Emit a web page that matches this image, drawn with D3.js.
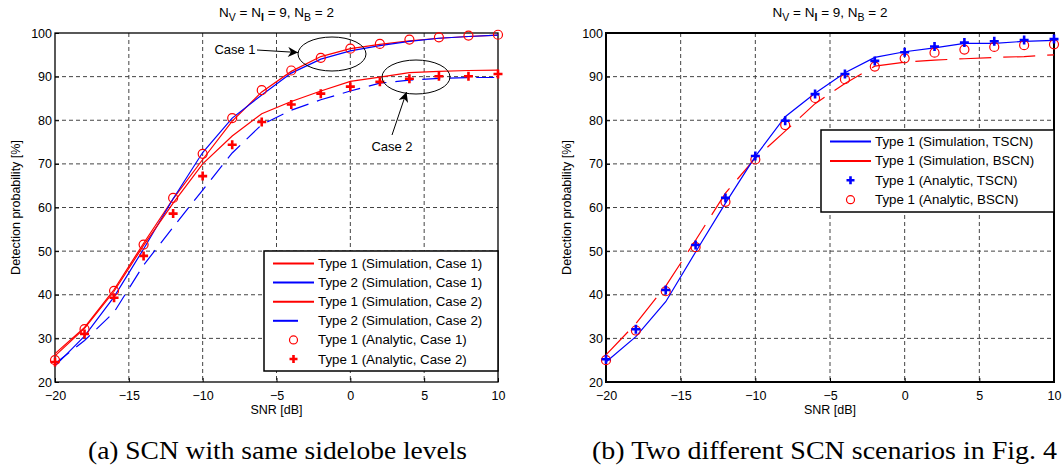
<!DOCTYPE html>
<html>
<head>
<meta charset="utf-8">
<script src="https://cdn.jsdelivr.net/npm/d3@7"></script>
<style>
body { margin: 0; background: #fff; }
text { font-family: Arial, "Liberation Sans", sans-serif; fill: #000; }
</style>
</head>
<body>
<svg id="chart" width="1064" height="468"></svg>
<script>
// x values (SNR in dB)
const snr = [-20, -18, -16, -14, -12, -10, -8, -6, -4, -2, 0, 2, 4, 6, 8, 10];

// panel (a) - same sidelobe levels
const simT1Case1 = [26.5, 32.5, 41.2, 51.8, 62.0, 71.0, 79.8, 86.5, 91.2, 94.6, 96.4, 97.4, 98.2, 98.8, 99.2, 99.5];
const simT2Case1 = [23.7, 30.5, 39.5, 50.5, 62.0, 72.6, 80.5, 85.8, 90.8, 94.0, 95.9, 97.1, 98.1, 98.8, 99.2, 99.5];
const simT1Case2 = [26.0, 32.3, 40.8, 51.3, 61.0, 70.0, 76.4, 81.5, 84.3, 86.7, 88.9, 89.9, 90.9, 91.2, 91.4, 91.5];
const simT2Case2 = [24.2, 29.5, 36.0, 46.8, 55.5, 64.0, 72.5, 79.0, 82.3, 84.7, 86.7, 88.5, 89.2, 89.6, 89.8, 89.8];
const anaT1Case1 = [25.0, 32.1, 40.9, 51.5, 62.2, 72.3, 80.5, 86.9, 91.4, 94.3, 96.4, 97.5, 98.5, 99.0, 99.4, 99.6];
const anaT1Case2 = [24.6, 31.0, 39.3, 48.9, 58.6, 67.2, 74.4, 79.6, 83.6, 86.1, 87.7, 88.8, 89.5, 90.1, 90.1, 90.6];

// panel (b) - two SCN scenarios
const simTSCN = [24.6, 30.4, 38.4, 49.8, 61.0, 71.7, 80.8, 86.2, 90.9, 94.4, 95.7, 96.6, 97.6, 97.6, 98.1, 98.3];
const simBSCN = [26.2, 33.4, 42.0, 52.5, 63.3, 71.3, 77.5, 83.8, 88.4, 92.4, 93.3, 93.8, 94.1, 94.4, 94.6, 95.0];
const anaTSCN = [25.2, 32.1, 41.1, 51.4, 62.2, 71.8, 79.9, 86.0, 90.6, 93.6, 95.6, 96.9, 97.8, 98.1, 98.4, 98.6];
const anaBSCN = [25.0, 31.8, 40.8, 50.9, 61.3, 71.0, 78.9, 85.1, 89.4, 92.3, 94.2, 95.5, 96.2, 96.8, 97.2, 97.4];

const xTicks = [-20, -15, -10, -5, 0, 5, 10];
const yTicks = [20, 30, 40, 50, 60, 70, 80, 90, 100];

const legendA = ["Type 1 (Simulation, Case 1)", "Type 2 (Simulation, Case 1)", "Type 1 (Simulation, Case 2)",
  "Type 2 (Simulation, Case 2)", "Type 1 (Analytic, Case 1)", "Type 1 (Analytic, Case 2)"];
const legendB = ["Type 1 (Simulation, TSCN)", "Type 1 (Simulation, BSCN)", "Type 1 (Analytic, TSCN)", "Type 1 (Analytic, BSCN)"];

const captionA = "(a) SCN with same sidelobe levels";
const captionB = "(b) Two different SCN scenarios in Fig. 4";

const RED = "#ff0000", BLUE = "#0000ff";

const svg = d3.select("#chart");

svg.append("defs").append("marker")
  .attr("id", "arrow")
  .attr("viewBox", "0 0 10 10")
  .attr("refX", 10).attr("refY", 5)
  .attr("markerWidth", 14).attr("markerHeight", 10)
  .attr("markerUnits", "userSpaceOnUse")
  .attr("orient", "auto")
  .append("path").attr("d", "M0,0 L10,5 L0,10 L3,5 Z").attr("fill", "#000");

// the figure is a bit wider than tall, stretch some text to match
function stretch(sel, k) {
  sel.each(function() {
    const w = this.getComputedTextLength();
    d3.select(this).attr("textLength", w * k).attr("lengthAdjust", "spacingAndGlyphs");
  });
}

function drawPanel(p) {
  const x = d3.scaleLinear().domain([-20, 10]).range([p.left, p.right]);
  const y = d3.scaleLinear().domain([20, 100]).range([p.bottom, p.top]);
  const g = svg.append("g");

  // grid
  g.selectAll(".gx").data(xTicks.slice(1, -1)).enter().append("line")
    .attr("x1", d => x(d)).attr("x2", d => x(d))
    .attr("y1", p.top).attr("y2", p.bottom)
    .attr("stroke", "#444").attr("stroke-width", 1).attr("stroke-dasharray", "4,3");
  g.selectAll(".gy").data(yTicks.slice(1, -1)).enter().append("line")
    .attr("x1", p.left).attr("x2", p.right)
    .attr("y1", d => y(d)).attr("y2", d => y(d))
    .attr("stroke", "#444").attr("stroke-width", 1).attr("stroke-dasharray", "4,3");

  // axes (ticks pointing inward, matlab style)
  const ax = g.append("g").attr("transform", `translate(0,${p.bottom})`)
    .call(d3.axisBottom(x).tickValues(xTicks).tickSizeInner(-4).tickSizeOuter(0).tickPadding(9.5));
  const ay = g.append("g").attr("transform", `translate(${p.left},0)`)
    .call(d3.axisLeft(y).tickValues(yTicks).tickSizeInner(-4).tickSizeOuter(0).tickPadding(3));
  [ax, ay].forEach(a => {
    a.select(".domain").remove();
    a.selectAll("text").attr("font-size", 12.5).attr("font-family", "Arial, 'Liberation Sans', sans-serif");
    a.selectAll("line").attr("stroke", "#000");
  });

  g.append("rect").attr("x", p.left).attr("y", p.top)
    .attr("width", p.right - p.left).attr("height", p.bottom - p.top)
    .attr("fill", "none").attr("stroke", "#000").attr("stroke-width", p.frame);

  // labels
  const cx = (p.left + p.right) / 2;
  g.append("text").attr("x", cx).attr("y", 414).attr("text-anchor", "middle")
    .attr("font-size", 12.5).text("SNR [dB]");
  g.append("text").attr("transform", `translate(${p.left - 35.5},${(p.top + p.bottom) / 2}) rotate(-90)`)
    .attr("text-anchor", "middle").attr("font-size", 12.5).text("Detection probability [%]");

  const t = g.append("text").attr("x", cx).attr("y", 17).attr("text-anchor", "middle").attr("font-size", 13.5);
  t.append("tspan").text("N");
  t.append("tspan").attr("dy", 4).attr("font-size", 10.5).text("V");
  t.append("tspan").attr("dy", -4).text(" = N");
  t.append("tspan").attr("dy", 4).attr("font-size", 10.5).attr("font-weight", "bold").text("I");
  t.append("tspan").attr("dy", -4).text(" = 9, N");
  t.append("tspan").attr("dy", 4).attr("font-size", 10.5).text("B");
  t.append("tspan").attr("dy", -4).text(" = 2");

  g.append("text").attr("x", p.capX).attr("y", 459).attr("text-anchor", "middle")
    .style("font-family", "'Liberation Serif', 'Times New Roman', serif")
    .attr("font-size", 25.5).attr("textLength", p.capW).attr("lengthAdjust", "spacingAndGlyphs")
    .text(p.caption);

  // series
  const line = d3.line().x(d => x(d[0])).y(d => y(d[1]));
  p.lines.forEach(s => {
    g.append("path").datum(d3.zip(snr, s.values))
      .attr("d", line).attr("fill", "none")
      .attr("stroke", s.color).attr("stroke-width", 1.2)
      .attr("stroke-dasharray", s.dash || null);
  });
  p.marks.forEach(s => drawMarks(g, d3.zip(snr, s.values).map(d => [x(d[0]), y(d[1])]), s, 4.5));

  // legend
  const lg = g.append("g");
  lg.append("rect").attr("x", p.leg.x).attr("y", p.leg.y)
    .attr("width", p.leg.w).attr("height", p.leg.h)
    .attr("fill", "#fff").attr("stroke", "#000").attr("stroke-width", 1.5);
  p.leg.items.forEach((it, i) => {
    const yy = p.leg.y0 + i * p.leg.step;
    const sx0 = p.leg.x + 9, sx1 = p.leg.x + 50;
    if (it.type === "line") {
      lg.append("line").attr("x1", sx0).attr("x2", sx1).attr("y1", yy).attr("y2", yy)
        .attr("stroke", it.color).attr("stroke-width", 2)
        .attr("stroke-dasharray", it.dash || null);
    } else {
      drawMarks(lg, [[(sx0 + sx1) / 2, yy]], it, 4);
    }
    lg.append("text").attr("x", p.leg.x + 54).attr("y", yy).attr("dy", "0.36em")
      .attr("font-size", 12.5).text(it.label);
  });
  stretch(lg.selectAll("text"), 1.065);
  return { x, y, g };
}

function drawMarks(g, pts, s, r) {
  if (s.shape === "circle") {
    g.selectAll(null).data(pts).enter().append("circle")
      .attr("cx", d => d[0]).attr("cy", d => d[1]).attr("r", r)
      .attr("fill", "none").attr("stroke", s.color).attr("stroke-width", 1.2);
  } else {
    g.selectAll(null).data(pts).enter().append("path")
      .attr("d", d => `M${d[0] - r},${d[1]}H${d[0] + r}M${d[0]},${d[1] - r}V${d[1] + r}`)
      .attr("stroke", s.color).attr("stroke-width", 2.6);
  }
}

// panel (a)
const pa = drawPanel({
  left: 55, right: 498, top: 33, bottom: 382, frame: 1.3, capX: 277.5, capW: 379, caption: captionA,
  lines: [
    { values: simT1Case1, color: RED },
    { values: simT2Case1, color: BLUE },
    { values: simT1Case2, color: RED },
    { values: simT2Case2, color: BLUE, dash: "18,9" }
  ],
  marks: [
    { values: anaT1Case1, color: RED, shape: "circle" },
    { values: anaT1Case2, color: RED, shape: "plus" }
  ],
  leg: {
    x: 264, y: 251, w: 234, h: 120, y0: 263.5, step: 19.1,
    items: [
      { type: "line", color: RED, label: legendA[0] },
      { type: "line", color: BLUE, label: legendA[1] },
      { type: "line", color: RED, label: legendA[2] },
      { type: "line", color: BLUE, dash: "25,30", label: legendA[3] },
      { type: "mark", shape: "circle", color: RED, label: legendA[4] },
      { type: "mark", shape: "plus", color: RED, label: legendA[5] }
    ]
  }
});

// annotations on panel (a)
const ann = pa.g.append("g").attr("fill", "none").attr("stroke", "#000").attr("stroke-width", 1);
ann.append("ellipse").attr("cx", 332).attr("cy", 54).attr("rx", 34).attr("ry", 17);
ann.append("ellipse").attr("cx", 416).attr("cy", 77).attr("rx", 34).attr("ry", 17);
ann.append("line").attr("x1", 257).attr("y1", 50).attr("x2", 298).attr("y2", 52.5).attr("marker-end", "url(#arrow)");
ann.append("line").attr("x1", 392).attr("y1", 135).attr("x2", 406.5).attr("y2", 92).attr("marker-end", "url(#arrow)");
pa.g.append("text").attr("x", 235).attr("y", 54).attr("text-anchor", "middle").attr("font-size", 13).text("Case 1");
pa.g.append("text").attr("x", 392).attr("y", 151).attr("text-anchor", "middle").attr("font-size", 13).text("Case 2");

// panel (b)
drawPanel({
  left: 606, right: 1054, top: 33, bottom: 382, frame: 2, capX: 824.5, capW: 465, caption: captionB,
  lines: [
    { values: simBSCN, color: RED, dash: "32,12" },
    { values: simTSCN, color: BLUE }
  ],
  marks: [
    { values: anaBSCN, color: RED, shape: "circle" },
    { values: anaTSCN, color: BLUE, shape: "plus" }
  ],
  leg: {
    x: 821, y: 130, w: 233, h: 82, y0: 141.5, step: 19.4,
    items: [
      { type: "line", color: BLUE, label: legendB[0] },
      { type: "line", color: RED, label: legendB[1] },
      { type: "mark", shape: "plus", color: BLUE, label: legendB[2] },
      { type: "mark", shape: "circle", color: RED, label: legendB[3] }
    ]
  }
});
</script>
</body>
</html>
